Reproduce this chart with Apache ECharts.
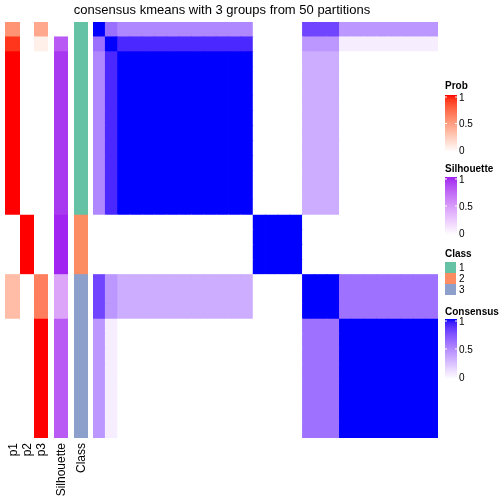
<!DOCTYPE html>
<html>
<head>
<meta charset="utf-8">
<script src="https://cdn.jsdelivr.net/npm/echarts@6/dist/echarts.min.js"></script>
<style>html,body{margin:0;padding:0;background:#fff}#c{width:504px;height:504px}</style>
</head>
<body>
<div id="c"></div>
<script>
// ---------- data ----------
const titleText = 'consensus kmeans with 3 groups from 50 partitions';
// block type of each of the 28 samples (rows / columns in order)
const rowTypes = ['A','B','C','C','C','C','C','C','C','C','C','C','C','D','D','D','D','E','E','E','F','F','F','F','F','F','F','F'];
const typeOrder = ['A','B','C','D','E','F'];
// consensus value between block types
const consensusBlock = [
  [1.00, 0.62, 0.52, 0, 0.80, 0.45],
  [0.62, 1.00, 0.91, 0, 0.45, 0.07],
  [0.52, 0.91, 1.00, 0, 0.35, 0.00],
  [0, 0, 0, 1.00, 0, 0],
  [0.80, 0.45, 0.35, 0, 1.00, 0.61],
  [0.45, 0.07, 0.00, 0, 0.61, 1.00]
];
const p1 = [0.55,0.92,1,1,1,1,1,1,1,1,1,1,1,0,0,0,0,0.35,0.35,0.35,0,0,0,0,0,0,0,0];
const p2 = [0,0,0,0,0,0,0,0,0,0,0,0,0,1,1,1,1,0,0,0,0,0,0,0,0,0,0,0];
const p3 = [0.45,0.08,0,0,0,0,0,0,0,0,0,0,0,0,0,0,0,0.65,0.65,0.65,1,1,1,1,1,1,1,1];
const silhouette = [0,0.8,0.93,0.93,0.93,0.93,0.93,0.93,0.93,0.93,0.93,0.93,0.93,0.99,0.99,0.99,0.99,0.45,0.45,0.45,0.8,0.8,0.8,0.8,0.8,0.8,0.8,0.8];
const classes = [1,1,1,1,1,1,1,1,1,1,1,1,1,2,2,2,2,3,3,3,3,3,3,3,3,3,3,3];
const classLabels = ['1','2','3'];
const legendTicks = ['1','0.5','0'];
const annoNames = ['p1','p2','p3','Silhouette','Class'];

// ---------- colour helpers (LAB interpolation) ----------
function lin(c){c/=255;return c<=0.04045?c/12.92:Math.pow((c+0.055)/1.055,2.4);}
function gam(c){c=c<=0.0031308?12.92*c:1.055*Math.pow(c,1/2.4)-0.055;return Math.round(Math.max(0,Math.min(1,c))*255);}
function rgb2lab(rgb){
  const r=lin(rgb[0]),g=lin(rgb[1]),b=lin(rgb[2]);
  let x=(0.4124*r+0.3576*g+0.1805*b)/0.95047,y=(0.2126*r+0.7152*g+0.0722*b),z=(0.0193*r+0.1192*g+0.9505*b)/1.08883;
  const f=t=>t>0.008856?Math.cbrt(t):7.787*t+16/116;
  const fx=f(x),fy=f(y),fz=f(z);
  return [116*fy-16,500*(fx-fy),200*(fy-fz)];
}
function lab2rgb(lab){
  const fy=(lab[0]+16)/116,fx=fy+lab[1]/500,fz=fy-lab[2]/200;
  const fi=t=>t*t*t>0.008856?t*t*t:(t-16/116)/7.787;
  const x=0.95047*fi(fx),y=fi(fy),z=1.08883*fi(fz);
  const r=3.2406*x-1.5372*y-0.4986*z,g=-0.9689*x+1.8758*y+0.0415*z,b=0.0557*x-0.2040*y+1.0570*z;
  return 'rgb('+gam(r)+','+gam(g)+','+gam(b)+')';
}
function ramp(hi){
  const a=rgb2lab([255,255,255]),b=rgb2lab(hi),out=[];
  for(let i=0;i<=20;i++){const t=i/20;out.push(lab2rgb([a[0]+(b[0]-a[0])*t,a[1]+(b[1]-a[1])*t,a[2]+(b[2]-a[2])*t]));}
  return out;
}
const redRamp=ramp([255,0,0]), purpleRamp=ramp([160,32,240]), blueRamp=ramp([0,0,255]);
const classColors=['#66C2A5','#FC8D62','#8DA0CB'];

// ---------- layout ----------
const TOP=22, H=416;
const cols=[[5,15],[20,14],[34,14],[54,14],[74,14]];
const MAIN=[93,345];
const N=rowTypes.length;
const idx=Array.from({length:N},(_,i)=>i);

const grids=[],xAxes=[],yAxes=[],series=[];
cols.forEach((c,k)=>{
  grids.push({left:c[0],top:TOP,width:c[1],height:H});
  xAxes.push({type:'category',gridIndex:k,data:['a'],show:false});
  yAxes.push({type:'category',gridIndex:k,data:idx,inverse:true,show:false});
});
grids.push({left:MAIN[0],top:TOP,width:MAIN[1],height:H});
xAxes.push({type:'category',gridIndex:5,data:idx,show:false});
yAxes.push({type:'category',gridIndex:5,data:idx,inverse:true,show:false});

function renderCell(params, api){
  const p=api.coord([api.value(0),api.value(1)]);
  const s=api.size([1,1]);
  const gx=params.coordSys.x, gy=params.coordSys.y, gw=params.coordSys.width, gh=params.coordSys.height;
  let x0=p[0]-s[0]/2-0.4, x1=p[0]+s[0]/2+0.4, y0=p[1]-s[1]/2-0.4, y1=p[1]+s[1]/2+0.4;
  x0=Math.max(x0,gx); x1=Math.min(x1,gx+gw); y0=Math.max(y0,gy); y1=Math.min(y1,gy+gh);
  return {type:'rect',shape:{x:x0,y:y0,width:x1-x0,height:y1-y0},style:{fill:api.visual('color')}};
}

const annoArrays=[p1,p2,p3,silhouette,classes];
annoArrays.forEach((arr,k)=>{
  series.push({type:'custom',xAxisIndex:k,yAxisIndex:k,renderItem:renderCell,encode:{x:0,y:1},data:arr.map((v,i)=>[0,i,v]),animation:false,silent:true});
});
const mainData=[];
for(let r=0;r<N;r++)for(let c=0;c<N;c++){
  mainData.push([c,r,consensusBlock[typeOrder.indexOf(rowTypes[r])][typeOrder.indexOf(rowTypes[c])]]);
}
series.push({type:'custom',xAxisIndex:5,yAxisIndex:5,renderItem:renderCell,encode:{x:0,y:1},data:mainData,animation:false,silent:true});

const visualMap=[
  {type:'continuous',show:false,seriesIndex:[0,1,2],min:0,max:1,dimension:2,inRange:{color:redRamp}},
  {type:'continuous',show:false,seriesIndex:[3],min:0,max:1,dimension:2,inRange:{color:purpleRamp}},
  {type:'piecewise',show:false,seriesIndex:[4],dimension:2,pieces:[{value:1,color:classColors[0]},{value:2,color:classColors[1]},{value:3,color:classColors[2]}]},
  {type:'continuous',show:false,seriesIndex:[5],min:0,max:1,dimension:2,inRange:{color:blueRamp}}
];

// ---------- graphics: title, labels, legends ----------
const FONT='"Liberation Sans", Arial, sans-serif';
const graphic=[];
graphic.push({type:'text',x:222,y:10,style:{text:titleText,align:'center',verticalAlign:'middle',font:'13px '+FONT,fill:'#000'}});
annoNames.forEach((n,k)=>{
  const cx=cols[k][0]+cols[k][1]/2+1;
  graphic.push({type:'text',x:cx,y:443,rotation:Math.PI/2,style:{text:n,align:'right',verticalAlign:'middle',font:'12px '+FONT,fill:'#000'}});
});
function gradLegend(title,ty,by,bh,rmp){
  graphic.push({type:'text',x:445,y:ty,style:{text:title,align:'left',verticalAlign:'middle',font:'bold 10px '+FONT,fill:'#000'}});
  const stops=rmp.map((c,i)=>({offset:1-i/(rmp.length-1),color:c}));
  graphic.push({type:'rect',shape:{x:445,y:by,width:12,height:bh},style:{fill:new echarts.graphic.LinearGradient(0,0,0,1,stops)}});
  legendTicks.forEach((t,i)=>{
    const yy=by+2+(bh-4)*i/2;
    if(i<2){
      graphic.push({type:'line',shape:{x1:445,y1:yy,x2:447,y2:yy},style:{stroke:'#fff',lineWidth:1}});
      graphic.push({type:'line',shape:{x1:455,y1:yy,x2:457,y2:yy},style:{stroke:'#fff',lineWidth:1}});
    }
    graphic.push({type:'text',x:459,y:yy+1,style:{text:t,align:'left',verticalAlign:'middle',font:'10px '+FONT,fill:'#000'}});
  });
}
gradLegend('Prob',86,95,57,redRamp);
gradLegend('Silhouette',169,177,58,purpleRamp);
graphic.push({type:'text',x:445,y:254,style:{text:'Class',align:'left',verticalAlign:'middle',font:'bold 10px '+FONT,fill:'#000'}});
classLabels.forEach((l,i)=>{
  graphic.push({type:'rect',shape:{x:445,y:262+i*11,width:11,height:11},style:{fill:classColors[i]}});
  graphic.push({type:'text',x:459,y:268+i*11,style:{text:l,align:'left',verticalAlign:'middle',font:'10px '+FONT,fill:'#000'}});
});
gradLegend('Consensus',312,319,60,blueRamp);

const chart=echarts.init(document.getElementById('c'),null,{renderer:'canvas'});
chart.setOption({animation:false,grid:grids,xAxis:xAxes,yAxis:yAxes,visualMap:visualMap,series:series,graphic:graphic});
</script>
</body>
</html>
